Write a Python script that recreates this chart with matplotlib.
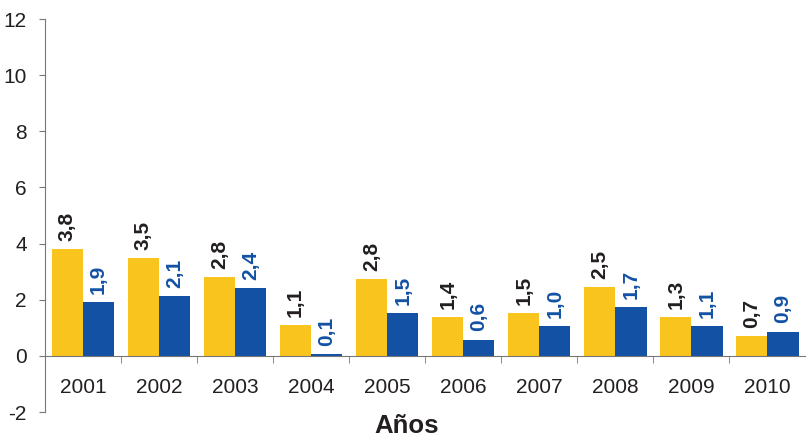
import matplotlib.pyplot as plt
import numpy as np

plt.rcParams['font.family'] = ['Liberation Sans', 'DejaVu Sans']
plt.rcParams['axes.unicode_minus'] = False

# data
years = ["2001", "2002", "2003", "2004", "2005", "2006", "2007", "2008", "2009", "2010"]
serie_a = [3.8, 3.48, 2.8, 1.1, 2.74, 1.38, 1.52, 2.46, 1.38, 0.7]
serie_b = [1.92, 2.13, 2.42, 0.05, 1.52, 0.58, 1.05, 1.74, 1.06, 0.86]
labels_a = ["3,8", "3,5", "2,8", "1,1", "2,8", "1,4", "1,5", "2,5", "1,3", "0,7"]
labels_b = ["1,9", "2,1", "2,4", "0,1", "1,5", "0,6", "1,0", "1,7", "1,1", "0,9"]

yellow = "#F9C41E"
blue = "#1351A4"
text_col = "#231F20"

fig = plt.figure(figsize=(8.09, 4.44), dpi=100)
ax = fig.add_axes([0.0556, 0.072, 0.94, 0.885])

x = np.arange(len(years))
w = 0.41
bars_a = ax.bar(x - w / 2, serie_a, w, color=yellow)
bars_b = ax.bar(x + w / 2, serie_b, w, color=blue)

# value labels, rotated
for bar, lab in zip(bars_a, labels_a):
    ax.annotate(lab, (bar.get_x() + bar.get_width() / 2, bar.get_height()),
                xytext=(0, 6), textcoords="offset points", rotation=90,
                ha="center", va="bottom", fontsize=15, fontweight="bold", color=text_col)
for bar, lab in zip(bars_b, labels_b):
    ax.annotate(lab, (bar.get_x() + bar.get_width() / 2, bar.get_height()),
                xytext=(0, 6), textcoords="offset points", rotation=90,
                ha="center", va="bottom", fontsize=15, fontweight="bold", color=blue)

ax.set_xlim(-0.5, len(years) - 0.5)
ax.set_ylim(-2, 12)
ax.set_yticks(range(-2, 13, 2))

ax.spines['top'].set_visible(False)
ax.spines['right'].set_visible(False)
ax.spines['bottom'].set_position(('data', 0))
ax.spines['left'].set_color("#777777")
ax.spines['bottom'].set_color("#777777")

ax.set_xticks(x)
ax.set_xticklabels(years)
ax.tick_params(axis='x', which='major', length=0, pad=16, labelsize=15, labelcolor=text_col)
ax.set_xticks(np.arange(0.5, len(years) - 0.5, 1), minor=True)
ax.tick_params(axis='x', which='minor', length=5, direction='out', color="#777777")
ax.tick_params(axis='y', length=4, pad=9, color="#777777", labelsize=15, labelcolor=text_col)

fig.text(0.503, 0.013, "Años", ha="center", va="bottom", fontsize=18.5, fontweight="bold", color=text_col)

fig.savefig("out.png", dpi=100)
